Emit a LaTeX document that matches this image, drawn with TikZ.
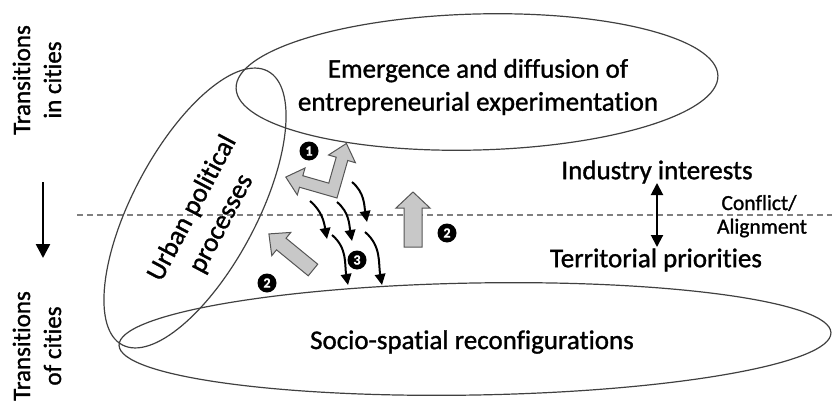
\documentclass[tikz,border=0pt]{standalone}
\usepackage{fontspec}
\setmainfont{Carlito}[Ligatures={NoCommon}, RawFeature={-liga;embolden=1.2}]
\usetikzlibrary{shapes.geometric,arrows.meta}
\definecolor{ovalc}{HTML}{404040}
\definecolor{arrowfill}{HTML}{C8C8C8}
\definecolor{arrowedge}{HTML}{555555}
\definecolor{dashc}{HTML}{808080}
\begin{document}
\begin{tikzpicture}[x=1pt,y=1pt,
  oval/.style={draw=ovalc, line width=1.2pt, ellipse, inner sep=0pt},
  big/.style={font=\fontsize{27}{33}\selectfont, align=center, inner sep=0pt},
  side/.style={font=\fontsize{25}{31}\selectfont, align=center, inner sep=0pt, rotate=90},
  small/.style={font=\fontsize{21.5}{26}\selectfont, inner sep=0pt},
  blockarrow/.style={fill=arrowfill, draw=arrowedge, line width=1pt, line join=miter},
  marker/.style={circle, fill=black, minimum size=19pt, inner sep=0pt, text=white, font=\fontsize{14}{14}\selectfont\bfseries},
  bendarrow/.style={line width=2pt, -{Triangle[length=11pt,width=10.5pt]}},
]
\useasboundingbox (0,0) rectangle (832,-412);

% dashed divider
\coordinate (dl) at (77,-215);
\coordinate (dr) at (832,-215);
\draw[dashc, line width=1.2pt, dash pattern=on 6pt off 4pt] (dl) -- (dr);

% ellipses
\node[oval, minimum width=482pt, minimum height=136pt, rotate=1.5] (topE) at (477,-82) {};
\node[oval, minimum width=712pt, minimum height=112pt, rotate=1] (botE) at (475,-339) {};
\node[oval, minimum width=310pt, minimum height=124pt, rotate=62] (leftE) at (195,-208) {};

% labels
\node[big] (emerg) at (478,-87) {Emergence and diffusion of\\entrepreneurial experimentation};
\node[big] (socio) at (472,-342) {Socio-spatial reconfigurations};
\node[big, rotate=62] (urban) at (207,-216) {Urban political\\processes};
\node[big] (indus) at (657,-172) {Industry interests};
\node[big] (terr) at (656,-260) {Territorial priorities};
\node[small] (confl) at (759,-203) {Conflict/};
\node[small] (align) at (762,-228) {Alignment};
\node[side] (tin) at (37,-80) {Transitions\\in cities};
\node[side] (tof) at (37,-346) {Transitions\\of cities};

% left arrow
\coordinate (la1) at (43,-182);
\coordinate (la2) at (43,-258);
\draw[line width=2.5pt, -{Triangle[length=14pt,width=14pt]}] (la1) -- (la2);

% conflict double arrow
\coordinate (da1) at (657,-183);
\coordinate (da2) at (657,-247);
\draw[line width=2pt, {Triangle[length=12pt,width=12pt]}-{Triangle[length=12pt,width=12pt]}] (da1) -- (da2);

% block arrows
\draw[blockarrow, shift={(337,-198)}, rotate=-16]
  (0,0) -- (0,39) -- (8,39) -- (-6,55) -- (-20,39) -- (-12,39) -- (-12,12)
  -- (-39,12) -- (-39,20) -- (-55,6) -- (-39,-8) -- (-39,0) -- cycle;
\draw[blockarrow, shift={(313,-270)}, rotate=140.7]
  (0,-7.5) -- (41,-7.5) -- (41,-15) -- (57,0) -- (41,15) -- (41,7.5) -- (0,7.5) -- cycle;
\draw[blockarrow, shift={(413,-247)}]
  (-9,0) -- (-9,39) -- (-17,39) -- (0,55) -- (17,39) -- (9,39) -- (9,0) -- cycle;

% curved arrows
\coordinate (c1s) at (352,-182); \coordinate (c1e) at (367,-222);
\coordinate (c2s) at (310,-201); \coordinate (c2e) at (327,-239);
\coordinate (c3s) at (337,-202); \coordinate (c3e) at (352,-241);
\coordinate (c4s) at (332,-235); \coordinate (c4e) at (348,-285);
\coordinate (c5s) at (365,-232); \coordinate (c5e) at (382,-285);
\foreach \c in {1,...,5}
  \draw[bendarrow] (c\c s) to[out=-40, in=100] (c\c e);

% markers
\node[marker] (m1) at (309,-151) {1};
\node[marker] (m2a) at (447,-233) {2};
\node[marker] (m2b) at (267,-283) {2};
\node[marker] (m3) at (357,-260) {3};
\end{tikzpicture}
\end{document}
